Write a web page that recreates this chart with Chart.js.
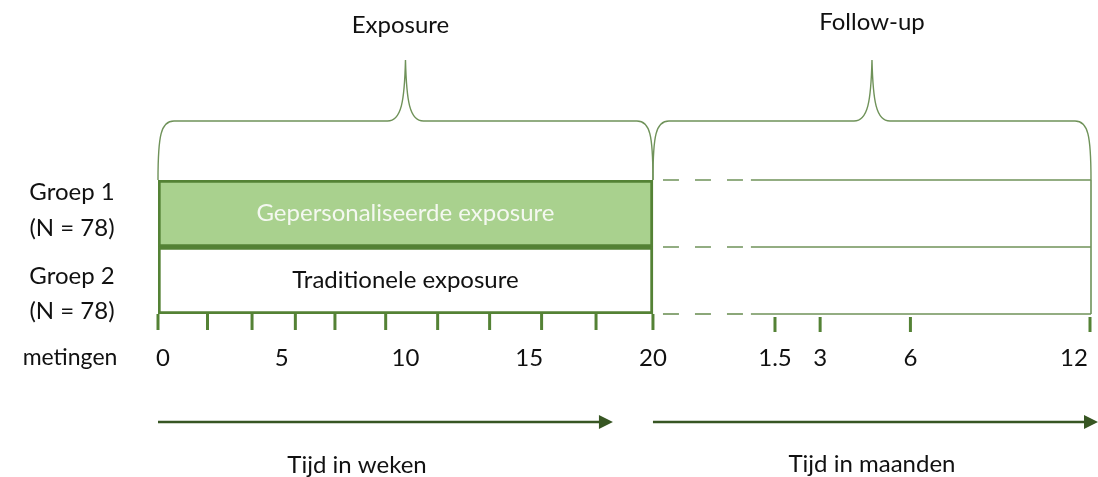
<!DOCTYPE html>
<html lang="nl">
<head>
    <meta charset="UTF-8">
    <title>Studieopzet exposure en follow-up</title>
    <script src="https://cdn.jsdelivr.net/npm/chart.js"></script>
    <style>
        html, body { margin: 0; padding: 0; background: #ffffff; }
        #wrap { width: 1098px; height: 477px; }
    </style>
</head>
<body>
    <div id="wrap">
        <canvas id="design" width="1098" height="477"></canvas>
    </div>

    <script>
        // Data
        const groepen = ['Groep 1', 'Groep 2'];
        const groepN = [78, 78];
        const condities = ['Gepersonaliseerde exposure', 'Traditionele exposure'];
        const exposureWeken = [[0, 20], [0, 20]];
        const meetWeken = [0, 2, 3.8, 5.55, 7.15, 9.2, 11.3, 13.4, 15.5, 17.7, 20];
        const weekLabels = [0, 5, 10, 15, 20];
        const followUpMaanden = [1.5, 3, 6, 12];
        const fasen = ['Exposure', 'Follow-up'];
        const asTitels = ['Tijd in weken', 'Tijd in maanden'];

        const FONT = '"Lato", "Open Sans", sans-serif';
        const DARK = '#548235';
        const LINE = '#6f9259';
        const ARROW = '#375623';

        function text(ctx, str, x, y, color) {
            ctx.fillStyle = color || '#111111';
            ctx.fillText(str, x, y);
        }

        function brace(ctx, x1, x2, yBase, yBar, yPeak) {
            const mid = (x1 + x2) / 2;
            const r = 16;
            ctx.beginPath();
            ctx.moveTo(x1, yBase);
            ctx.bezierCurveTo(x1, yBar + 14, x1 + 3, yBar, x1 + r, yBar);
            ctx.lineTo(mid - 18, yBar);
            ctx.bezierCurveTo(mid - 4, yBar, mid - 1, yBar - 20, mid, yPeak);
            ctx.bezierCurveTo(mid + 1, yBar - 20, mid + 4, yBar, mid + 18, yBar);
            ctx.lineTo(x2 - r, yBar);
            ctx.bezierCurveTo(x2 - 3, yBar, x2, yBar + 14, x2, yBase);
            ctx.stroke();
        }

        const designPlugin = {
            id: 'design',
            afterDatasetsDraw(chart) {
                const ctx = chart.ctx;
                const area = chart.chartArea;
                const xw = chart.scales.xw;
                const xm = chart.scales.xm;
                const y = chart.scales.y;
                const top = area.top;
                const bottom = area.bottom;
                const expStart = xw.getPixelForValue(0);
                const expEnd = xw.getPixelForValue(20);
                const fuEnd = xm.getPixelForValue(12);
                const breakEnd = xm.getPixelForValue(0.7);

                ctx.save();
                ctx.textAlign = 'center';
                ctx.textBaseline = 'middle';

                // braces
                ctx.strokeStyle = LINE;
                ctx.lineWidth = 1.4;
                brace(ctx, expStart, expEnd, top, top - 59, top - 120);
                brace(ctx, expEnd, fuEnd, top, top - 59, top - 120);

                ctx.font = '24px ' + FONT;
                text(ctx, fasen[0], (expStart + expEnd) / 2 - 5, 25);
                text(ctx, fasen[1], (expEnd + fuEnd) / 2, 22);

                // follow-up rows
                const rows = [top, (top + bottom) / 2, bottom];
                ctx.lineWidth = 1.6;
                rows.forEach(ry => {
                    ctx.setLineDash([16, 16]);
                    ctx.beginPath();
                    ctx.moveTo(expEnd + 10, ry);
                    ctx.lineTo(breakEnd, ry);
                    ctx.stroke();
                    ctx.setLineDash([]);
                    ctx.beginPath();
                    ctx.moveTo(breakEnd, ry);
                    ctx.lineTo(fuEnd, ry);
                    ctx.stroke();
                });
                ctx.beginPath();
                ctx.moveTo(fuEnd, top);
                ctx.lineTo(fuEnd, bottom);
                ctx.stroke();

                // measurement ticks
                ctx.strokeStyle = DARK;
                ctx.lineWidth = 3;
                meetWeken.forEach(w => {
                    const px = xw.getPixelForValue(w);
                    ctx.beginPath();
                    ctx.moveTo(px, bottom);
                    ctx.lineTo(px, bottom + 16);
                    ctx.stroke();
                });
                followUpMaanden.forEach(m => {
                    const px = Math.min(xm.getPixelForValue(m), fuEnd - 1);
                    ctx.beginPath();
                    ctx.moveTo(px, bottom + 3);
                    ctx.lineTo(px, bottom + 18);
                    ctx.stroke();
                });

                // tick labels
                ctx.font = '23px ' + FONT;
                const labelY = bottom + 44;
                text(ctx, 'metingen', 70, labelY);
                ctx.font = '24px ' + FONT;
                weekLabels.forEach(w => {
                    let px = xw.getPixelForValue(w);
                    if (w === 0) px += 5;
                    text(ctx, String(w), px, labelY);
                });
                followUpMaanden.forEach(m => {
                    const px = Math.min(xm.getPixelForValue(m), fuEnd - 17);
                    text(ctx, String(m), px, labelY);
                });

                // condition labels inside bars
                condities.forEach((c, i) => {
                    const cy = y.getPixelForValue(i);
                    text(ctx, c, (expStart + expEnd) / 2, cy, i === 0 ? '#f4f8f0' : '#111111');
                });

                // group labels
                groepen.forEach((g, i) => {
                    const cy = y.getPixelForValue(i);
                    text(ctx, g, 72, cy - 21 + i * 17);
                    text(ctx, '(N = ' + groepN[i] + ')', 72, cy + 15 + i * 16);
                });

                // time arrows
                const arrowY = bottom + 108;
                const arrows = [[expStart, expEnd - 40], [expEnd, area.right + 7]];
                ctx.strokeStyle = ARROW;
                ctx.fillStyle = ARROW;
                ctx.lineWidth = 2.5;
                arrows.forEach(([a, b]) => {
                    ctx.beginPath();
                    ctx.moveTo(a, arrowY);
                    ctx.lineTo(b - 10, arrowY);
                    ctx.stroke();
                    ctx.beginPath();
                    ctx.moveTo(b - 14, arrowY - 7);
                    ctx.lineTo(b, arrowY);
                    ctx.lineTo(b - 14, arrowY + 7);
                    ctx.closePath();
                    ctx.fill();
                });
                text(ctx, asTitels[0], 357, bottom + 151);
                text(ctx, asTitels[1], (expEnd + fuEnd) / 2, bottom + 150);

                ctx.restore();
            }
        };

        new Chart(document.getElementById('design'), {
            type: 'bar',
            data: {
                labels: groepen,
                datasets: [{
                    label: 'Exposure',
                    data: exposureWeken,
                    xAxisID: 'xw',
                    backgroundColor: ['#a9d18e', '#ffffff'],
                    borderColor: DARK,
                    borderWidth: 3,
                    borderSkipped: false,
                    barPercentage: 1,
                    categoryPercentage: 1
                }]
            },
            options: {
                indexAxis: 'y',
                responsive: false,
                devicePixelRatio: 1,
                animation: false,
                layout: { padding: { left: 158, right: 7, top: 180, bottom: 163 } },
                plugins: {
                    legend: { display: false },
                    tooltip: { enabled: false }
                },
                scales: {
                    y: { type: 'category', display: false },
                    xw: { type: 'linear', axis: 'x', min: 0, max: 37.7, display: false },
                    xm: { type: 'linear', axis: 'x', min: -19, max: 12, display: false }
                }
            },
            plugins: [designPlugin]
        });
    </script>
</body>
</html>
